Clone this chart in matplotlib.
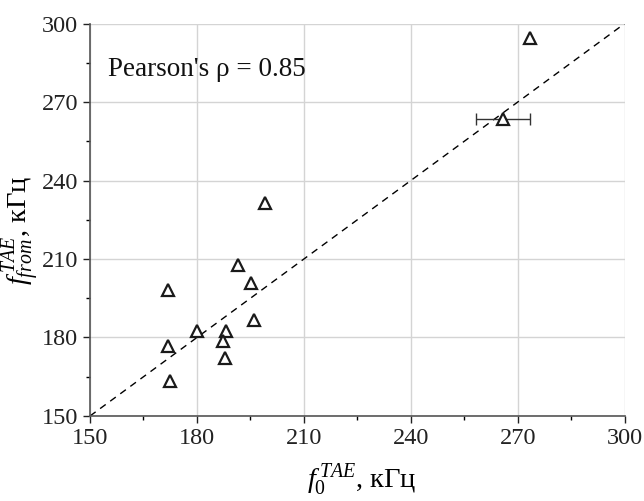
import matplotlib.pyplot as plt
from matplotlib.ticker import MultipleLocator

plt.rcParams["font.family"] = ["Liberation Serif", "DejaVu Serif"]
plt.rcParams["mathtext.fontset"] = "custom"
plt.rcParams["mathtext.rm"] = "Liberation Serif"
plt.rcParams["mathtext.it"] = "Liberation Serif:italic"

# f0 (x) vs f_from (y), kHz
f0 = [273.3, 265.9, 199.2, 191.6, 195.3, 171.8, 196.0, 180.1, 188.1, 187.4, 172.0, 188.0, 172.3]
f_from = [294.4, 263.6, 231.5, 207.7, 201.0, 198.2, 186.7, 182.3, 182.3, 178.5, 176.6, 172.0, 163.2]
# single point with a horizontal error bar
err_x = [265.9]
err_y = [263.6]
err_dx = [7.5]
ticks = [150, 180, 210, 240, 270, 300]
pearson = 0.85

fig = plt.figure(figsize=(6.44, 5.01), dpi=100)
ax = fig.add_axes([0.1398, 0.1697, 0.8302, 0.7833])

ax.grid(True, color="#d4d4d4", linewidth=1.0, zorder=0)
ax.plot([150, 300], [150, 300], linestyle=(0, (5, 4)), color="black", linewidth=1.0, zorder=2)

ax.errorbar(err_x, err_y, xerr=err_dx, fmt="none", ecolor="#333333",
            elinewidth=1.0, capsize=4, capthick=1.0, zorder=3)
ax.plot(f0, f_from, linestyle="none", marker="^", markersize=8,
        markerfacecolor="white", markeredgecolor="#1a1a1a", markeredgewidth=1.6, zorder=4)

ax.set_xlim(150, 300)
ax.set_ylim(150, 300)
ax.set_xticks(ticks)
ax.set_yticks(ticks)
ax.xaxis.set_minor_locator(MultipleLocator(15))
ax.yaxis.set_minor_locator(MultipleLocator(15))
ax.tick_params(which="major", direction="out", length=5, width=1.0, labelsize=17.5, colors="#222222")
ax.tick_params(which="minor", direction="out", length=3, width=1.0)

for s in ["top", "right"]:
    ax.spines[s].set_visible(False)
for s in ["left", "bottom"]:
    ax.spines[s].set_color("#555555")
    ax.spines[s].set_linewidth(1.2)

ax.text(155, 282.6, f"Pearson's \u03c1 = {pearson}", fontsize=19.5, va="center", ha="left", color="#111111")

ax.set_xlabel(r"$f_0^{\,TAE}$, кГц", fontsize=20.5)
ax.set_ylabel(r"$f_{from}^{\,TAE}$, кГц", fontsize=20.5)
ax.xaxis.set_label_coords(0.508, -0.118)
ax.yaxis.set_label_coords(-0.088, 0.474)

fig.savefig("out.png", dpi=100)
